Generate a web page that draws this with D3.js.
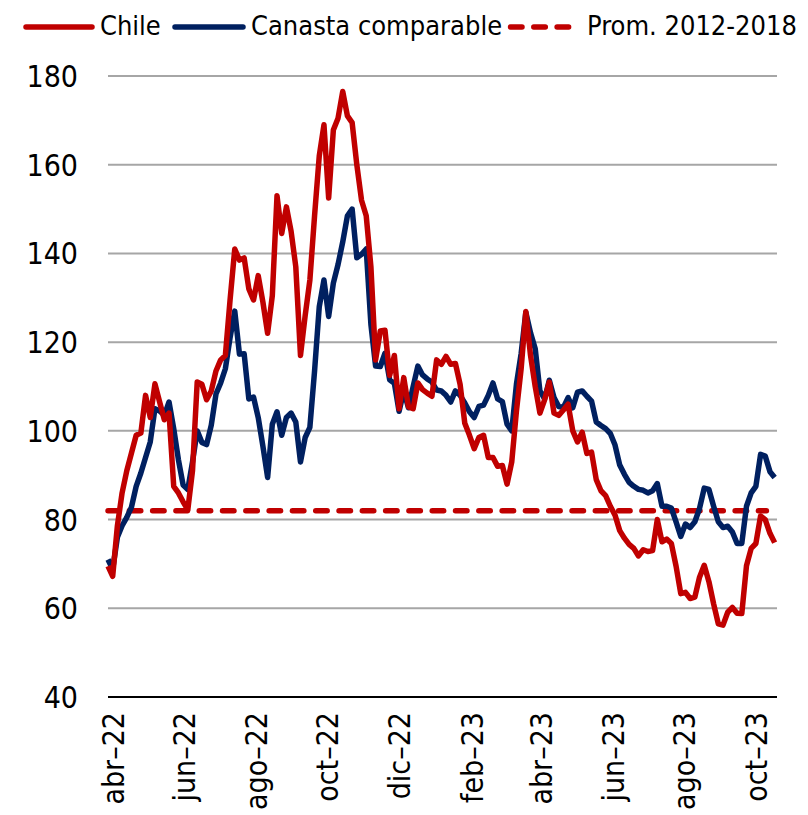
<!DOCTYPE html>
<html>
<head>
<meta charset="utf-8">
<script src="https://cdn.jsdelivr.net/npm/d3@7"></script>
<style>
  body { margin: 0; background: #fff; }
  text { font-family: "DejaVu Sans Condensed", "DejaVu Sans", sans-serif; font-stretch: condensed; fill: #000; }
</style>
</head>
<body>
<div></div>
<script>
// values, one point every 4 days from 28-mar-22
let startDate = "2022-03-28"
let stepDays = 4

let chile = [69.5, 67.2, 78.6, 86, 91, 95, 99, 99.5, 108, 103,
    110.6, 106.5, 102.5, 104, 87.5, 86, 84, 82.2, 91, 111,
    110.5, 107, 109, 113.5, 116, 117, 129.5, 141, 138.5, 139,
    132, 129.5, 135, 129, 122, 130.5, 153, 144.5, 150.5, 145,
    137, 117, 126, 134, 148.5, 162, 169, 152.5, 167.8, 170.5,
    176.5, 171, 169.5, 160, 152, 148.5, 137, 116, 122.5, 122.7,
    112.5, 117, 105, 112, 105.4, 105, 110.8, 109.3, 108.5, 107.8,
    116, 115, 116.8, 115, 115.2, 110.5, 101.7, 99, 96, 98.5,
    99, 94, 94, 92, 92.2, 88, 93, 104.5, 114, 126.9,
    117, 110, 104, 107, 111, 104, 103.5, 104.7, 106, 100,
    97.5, 99.7, 94.9, 95.2, 89, 86.5, 85.4, 83, 81, 77.5,
    75.8, 74.4, 73.5, 71.8, 73.2, 72.8, 73, 80, 75, 75.6,
    74.6, 69.5, 63.3, 63.6, 62.2, 62.5, 67, 69.7, 66, 61,
    56.5, 56.2, 59.1, 60.2, 58.9, 58.8, 69.6, 73.5, 74.6, 80.8,
    80, 76.9, 74.8]

let canasta = [71, 68.8, 76, 78.6, 80.5, 82.8, 87.5, 90.5, 94, 97.5,
    105, 104.5, 103.5, 106.5, 100.5, 93.5, 87.8, 86.8, 93, 100,
    97.4, 96.9, 101.3, 108.3, 110.8, 114, 121, 127, 117.3, 117.4,
    107.2, 107.6, 103, 96.5, 89.5, 101.5, 104.3, 99, 103, 104,
    102, 93, 98.5, 100.8, 113.5, 128, 134, 125.8, 133.3, 137.5,
    142.6, 148.5, 150, 139, 139.8, 141, 124, 114.6, 114.5, 117.5,
    111.5, 110.7, 104.4, 109, 105.2, 110, 114.6, 112.6, 111.7, 111,
    109.2, 109, 108, 106.5, 109, 108, 106.3, 104.3, 103, 105.5,
    105.8, 108, 110.8, 107.2, 106.6, 101.5, 100, 110.5, 117.4, 126.7,
    122.1, 118.5, 109, 107.2, 111.4, 107.5, 105.5, 105.3, 107.5, 105.2,
    108.7, 109, 107.8, 106.7, 102, 101.2, 100.5, 99.4, 96.8, 92.3,
    90.2, 88.4, 87.5, 86.8, 86.6, 86, 86.5, 88.1, 83, 83,
    82.6, 79.5, 76.2, 79, 78.2, 79.5, 82.5, 87.1, 86.8, 83,
    79.5, 78.2, 78.5, 77.2, 74.6, 74.6, 83, 86, 87.5, 94.7,
    94.3, 90.8, 89.5]

let promDates = ["2022-03-28", "2023-10-10"]
let promValue = 82

let tickDates = ["2022-04-01", "2022-06-01", "2022-08-01", "2022-10-01", "2022-12-01",
    "2023-02-01", "2023-04-01", "2023-06-01", "2023-08-01", "2023-10-01"]
let tickLabels = ["abr–22", "jun–22", "ago–22", "oct–22", "dic–22",
    "feb–23", "abr–23", "jun–23", "ago–23", "oct–23"]
let yTicks = [40, 60, 80, 100, 120, 140, 160, 180]

let legendNames = ["Chile", "Canasta comparable", "Prom. 2012-2018"]

let red = "#C00000"
let blue = "#002060"
let w = 808
let h = 815

let parse = d3.timeParse("%Y-%m-%d")
let start = parse(startDate)
let dates = chile.map((d, i) => d3.timeDay.offset(start, i * stepDays))

let svg = d3.select("div").append("svg").attr("width", w).attr("height", h)

let xScale = d3.scaleTime().domain([start, parse("2023-10-19")]).range([108, 777])
let yScale = d3.scaleLinear().domain([40, 180]).range([697, 76])

// grid
svg.append("g").selectAll("line")
    .data(yTicks.slice(1))
    .enter()
    .append("line")
    .attr("x1", 108).attr("x2", 777)
    .attr("y1", d => yScale(d)).attr("y2", d => yScale(d))
    .attr("stroke", "#A6A6A6").attr("stroke-width", 2)

// y axis labels
const yAxis = d3.axisLeft(yScale).tickValues(yTicks).tickSize(0).tickPadding(0)
let yg = svg.append("g").attr("transform", "translate(78,0)").call(yAxis)
yg.select(".domain").remove()
yg.selectAll("text").attr("font-size", 30).attr("font-family", null).attr("dy", "0.35em")

// x axis
const xAxis = d3.axisBottom(xScale)
    .tickValues(tickDates.map(parse))
    .tickFormat((d, i) => tickLabels[i])
    .tickSize(0)
let xg = svg.append("g").attr("transform", "translate(0," + yScale(40) + ")").call(xAxis)
xg.select(".domain").attr("stroke", "#000").attr("stroke-width", 2)
    .attr("d", "M108,0H777")
xg.selectAll("text")
    .attr("font-size", 30).attr("font-family", null)
    .attr("text-anchor", "end")
    .attr("transform", "rotate(-90)")
    .attr("x", -15).attr("y", 0).attr("dy", "0.35em")

let line = d3.line().x((d, i) => xScale(dates[i])).y(d => yScale(d)).curve(d3.curveLinear)

svg.append("path")
    .datum(promDates)
    .attr("d", d3.line().x(d => xScale(parse(d))).y(() => yScale(promValue)))
    .attr("fill", "none").attr("stroke", red).attr("stroke-width", 5.5)
    .attr("stroke-linecap", "round")
    .attr("stroke-dasharray", "11.5,11.8").attr("stroke-dashoffset", 2)

svg.append("path")
    .datum(canasta)
    .attr("d", line)
    .attr("fill", "none").attr("stroke", blue).attr("stroke-width", 5.5)
    .attr("stroke-linejoin", "round")

svg.append("path")
    .datum(chile)
    .attr("d", line)
    .attr("fill", "none").attr("stroke", red).attr("stroke-width", 5.5)
    .attr("stroke-linejoin", "round")

// legend
let legend = [
    { x1: 26, x2: 92, tx: 100, color: red, dash: null },
    { x1: 175, x2: 243, tx: 251, color: blue, dash: null },
    { x1: 510.5, x2: 570.5, tx: 587, color: red, dash: "11.5,11.8" }
]
legend.forEach((l, i) => {
    svg.append("line")
        .attr("x1", l.x1).attr("x2", l.x2).attr("y1", 27).attr("y2", 27)
        .attr("stroke", l.color).attr("stroke-width", 5.5)
        .attr("stroke-linecap", "round")
        .attr("stroke-dasharray", l.dash)
    svg.append("text")
        .attr("x", l.tx).attr("y", 34.5)
        .attr("font-size", 27)
        .text(legendNames[i])
})
</script>
</body>
</html>
